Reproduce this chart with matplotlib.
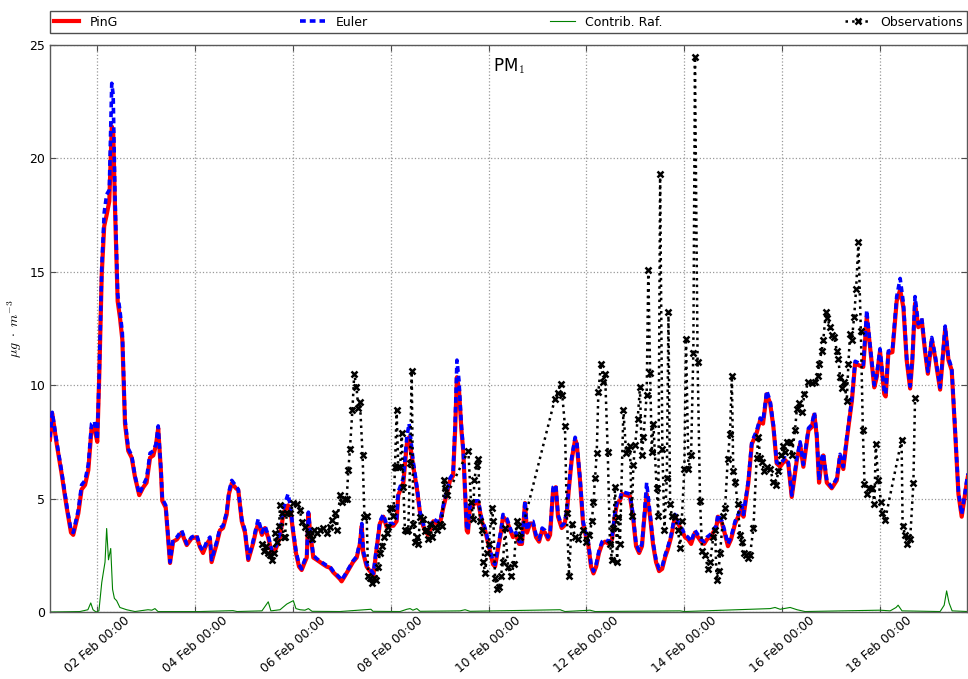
import matplotlib
matplotlib.use("Agg")
import matplotlib.pyplot as plt
import matplotlib.dates as mdates
from datetime import datetime, timedelta

plt.rcParams['font.family'] = ['DejaVu Sans']
plt.rcParams['mathtext.fontset'] = 'cm'

START = datetime(2015, 2, 1, 0, 0)

# ---- PinG / Euler (hours since 01 Feb 00:00) ----
model_hours = [
    0.8, 1.9, 4.1, 6.5, 9.0, 11.1, 12.2, 14.7, 16.3, 18.0, 19.6, 21.2, 22.6, 24.0,
    25.0, 26.2, 27.4, 28.6, 29.9, 31.1, 31.8, 32.7, 34.0, 35.1, 36.3, 37.6, 39.2, 40.9, 42.5, 44.6, 46.6, 48.2, 49.9, 51.5, 52.8, 53.9, 55.3, 55.9, 57.6, 58.8,
    59.7, 61.2, 63.1, 65.4, 67.9, 70.3, 72.8, 74.4, 75.9, 77.7, 79.3, 80.1, 82.6, 84.2, 85.7, 87.5, 88.6, 90.0, 92.1, 93.2, 94.9, 96.5, 98.1,
    100.4, 101.9, 103.0, 104.8, 106.3, 107.8, 109.7, 111.7, 113.7, 115.1, 116.5, 117.6, 118.9, 120.0, 121.5, 123.0, 124.3, 125.4, 126.8, 127.6, 128.4,
    130.0, 131.7, 133.3, 134.9, 136.6, 138.2, 139.8, 141.5, 143.1, 143.9, 145.6, 147.2,
    149.5, 151.3, 152.9, 153.8, 154.5, 156.2, 157.8, 159.5, 161.1, 162.7, 164.4, 166.0, 167.7, 169.3, 170.9, 171.7,
    174.2, 175.9, 177.0, 179.1, 180.9, 182.4, 183.9, 184.8, 186.3, 187.3, 188.9, 190.7, 192.2, 193.8, 195.5,
    197.1, 198.6, 199.6, 200.5, 201.5, 202.7, 203.6, 205.3,
    205.9, 206.9, 208.4, 209.4, 211.0, 212.7, 214.3, 215.9, 217.2, 218.2, 219.2, 220.7, 222.1, 223.1, 224.1, 225.1, 226.6,
    228.0, 229.5, 231.0, 232.4, 233.9, 234.9, 236.4, 237.8, 239.3, 240.8, 242.3, 243.7, 245.2, 246.2, 247.7, 249.0, 250.1, 251.9, 253.1, 254.4,
    255.5, 256.8, 258.5, 259.3, 260.9, 262.4, 263.9, 264.8, 266.3, 267.5, 268.8, 270.2, 271.7, 273.2, 275.1, 276.6, 278.1, 279.1, 280.5, 281.5,
    283.5, 285.4, 286.9, 288.4, 289.9, 291.3, 292.3, 293.6, 295.3, 296.7, 298.2, 299.7, 301.2, 302.6, 304.1, 305.6, 307.5, 309.0,
    310.8, 312.4, 313.9, 315.4, 317.3, 318.8, 320.3, 321.8, 323.2, 324.7, 326.2, 327.7, 328.6, 330.6, 332.1, 333.5, 335.0, 337.0, 338.5, 340.3, 341.1, 342.4, 343.5,
    345.2, 347.6, 349.3, 350.7, 352.5, 354.2, 355.8, 357.4, 359.1, 361.5, 363.1, 364.8, 367.3, 368.9, 370.5, 373.0, 374.6, 375.9, 377.1,
    378.2, 379.5, 380.3, 382.0, 384.4, 386.9, 388.5, 390.1, 391.8, 394.3, 395.9, 398.3, 399.9,
    401.6, 403.2, 405.3, 406.5, 408.1, 410.2, 410.9, 412.2, 414.2, 416.3, 418.0, 419.6, 421.2, 422.9, 424.0, 425.3, 426.9, 428.6, 430.2,
    431.6, 433.5, 435.1, 437.6, 440.1, 441.7, 443.3, 445.0, 446.6, 448.2, 450.7, 451.3,
]

ping_values = [
    7.6, 8.75, 7.4, 6.1, 4.6, 3.5, 3.4, 4.35, 5.4, 5.6, 6.25, 8.1, 8.1, 7.5,
    10.5, 14.9, 17.0, 17.5, 18.1, 21.4, 21.2, 17.8, 13.7, 13.0, 12.0, 8.3, 7.1, 6.8, 5.95, 5.15, 5.5, 5.7, 6.8, 6.9, 7.35, 8.1, 6.1, 4.9, 4.6, 3.2,
    2.16, 3.1, 3.2, 3.5, 2.95, 3.25, 3.3, 2.86, 2.6, 3.0, 3.2, 2.2, 3.0, 3.6, 3.7, 4.3, 5.2, 5.67, 5.45, 5.37, 4.0, 3.5, 2.29,
    3.0, 3.6, 3.9, 3.4, 3.7, 3.3, 2.6, 2.8, 3.3, 4.2, 4.6, 4.7, 4.4, 3.6, 2.6, 2.0, 1.85, 2.1, 2.4, 4.35, 3.6,
    2.4, 2.3, 2.2, 2.1, 2.0, 1.95, 1.75, 1.6, 1.45, 1.35, 1.6, 1.85,
    2.2, 2.4, 3.0, 3.8, 2.6, 2.0, 1.8, 1.6, 2.8, 3.9, 4.2, 3.75, 3.8, 3.8, 4.0, 5.15,
    5.7, 7.4, 7.7, 6.4, 5.4, 4.35, 3.8, 3.6, 3.4, 3.6, 4.0, 3.9, 3.9, 4.6, 5.2,
    5.8, 6.0, 8.0, 10.35, 9.8, 8.0, 7.1, 3.6,
    3.5, 4.6, 4.7, 4.8, 4.8, 4.0, 3.6, 3.0, 2.5, 2.1, 2.0, 2.8, 3.5, 4.2, 4.1, 4.0, 3.6,
    3.3, 3.4, 3.0, 3.0, 4.8, 3.5, 3.9, 3.9, 3.3, 3.1, 3.6, 3.5, 3.2, 3.4, 5.4, 5.5, 4.2, 3.7, 3.8, 4.35,
    5.5, 6.7, 7.6, 7.4, 5.8, 3.9, 3.3, 3.1, 2.0, 1.7, 2.0, 2.6, 3.0, 3.1, 3.0, 3.2, 4.3, 4.8, 4.9, 5.2,
    5.15, 5.1, 4.2, 2.9, 2.6, 2.9, 4.0, 5.2, 4.2, 3.0, 2.2, 1.8, 1.9, 2.4, 2.8, 3.3, 4.2, 3.9,
    3.6, 3.3, 3.2, 3.0, 3.5, 3.3, 3.1, 3.0, 3.2, 3.3, 3.5, 3.7, 4.2, 3.9, 3.4, 2.9, 3.2, 3.9, 4.2, 4.6, 4.2, 5.0, 5.7,
    7.4, 7.9, 8.45, 8.3, 9.6, 9.2, 8.15, 6.55, 6.4, 6.7, 6.55, 5.07, 6.7, 7.4, 6.4, 8.0, 8.15, 8.7, 7.7,
    5.7, 6.7, 6.9, 5.7, 5.45, 5.8, 6.85, 6.3, 7.6, 9.3, 10.95, 10.85, 10.8,
    13.0, 11.7, 9.9, 10.35, 11.5, 9.6, 9.5, 11.4, 11.45, 13.7, 14.2, 13.4, 11.1, 9.85, 11.1, 13.6, 12.55, 12.85, 11.5,
    10.5, 12.0, 11.25, 9.8, 12.5, 11.1, 10.65, 7.9, 5.2, 4.2, 5.7, 6.0,
]

euler_values = [
    7.7, 8.8, 7.5, 6.2, 4.7, 3.6, 3.5, 4.5, 5.6, 5.8, 6.5, 8.3, 8.4, 7.6,
    10.7, 15.2, 17.6, 18.4, 18.6, 23.3, 22.8, 18.3, 14.0, 13.3, 12.3, 8.5, 7.2, 6.9, 6.0, 5.2, 5.6, 5.9, 7.0, 7.1, 7.4, 8.2, 6.2, 5.0, 4.7, 3.3,
    2.2, 3.2, 3.3, 3.6, 3.0, 3.3, 3.4, 2.9, 2.7, 3.1, 3.3, 2.3, 3.1, 3.7, 3.8, 4.4, 5.3, 5.8, 5.55, 5.4, 4.1, 3.6, 2.35,
    3.1, 3.7, 4.1, 3.5, 3.8, 3.4, 2.7, 2.9, 3.5, 4.5, 4.9, 5.2, 4.6, 3.7, 2.7, 2.1, 1.9, 2.2, 2.5, 4.4, 3.7,
    2.5, 2.35, 2.25, 2.15, 2.05, 2.0, 1.8, 1.65, 1.5, 1.4, 1.65, 1.9,
    2.25, 2.45, 3.1, 3.9, 2.7, 2.1, 1.9, 1.7, 2.9, 4.0, 4.3, 3.85, 3.9, 3.9, 4.1, 5.3,
    5.9, 7.7, 8.3, 6.6, 5.5, 4.4, 3.9, 3.7, 3.5, 3.7, 4.1, 4.0, 4.0, 4.7, 5.3,
    5.9, 6.1, 8.3, 11.1, 10.2, 8.2, 7.2, 3.7,
    3.6, 4.7, 4.8, 4.9, 4.9, 4.1, 3.7, 3.1, 2.6, 2.2, 2.1, 2.9, 3.6, 4.3, 4.2, 4.1, 3.7,
    3.4, 3.5, 3.1, 3.1, 4.9, 3.6, 4.0, 4.0, 3.4, 3.2, 3.7, 3.6, 3.3, 3.5, 5.5, 5.6, 4.3, 3.8, 3.9, 4.45,
    5.6, 6.8, 7.7, 7.5, 5.9, 4.0, 3.4, 3.2, 2.1, 1.8, 2.1, 2.7, 3.1, 3.2, 3.1, 3.3, 4.4, 4.9, 5.0, 5.3,
    5.25, 5.2, 4.3, 3.0, 2.7, 3.0, 4.1, 5.7, 4.3, 3.1, 2.3, 1.9, 2.0, 2.5, 2.9, 3.4, 4.3, 4.0,
    3.7, 3.4, 3.3, 3.1, 3.6, 3.4, 3.2, 3.1, 3.3, 3.4, 3.6, 3.8, 4.3, 4.0, 3.5, 3.0, 3.3, 4.0, 4.3, 4.7, 4.3, 5.1, 5.8,
    7.5, 8.0, 8.55, 8.4, 9.75, 9.3, 8.25, 6.6, 6.5, 6.8, 6.6, 5.15, 6.8, 7.5, 6.5, 8.1, 8.25, 8.8, 7.8,
    5.8, 6.8, 7.0, 5.8, 5.5, 5.9, 6.95, 6.4, 7.7, 9.4, 11.05, 10.95, 10.9,
    13.3, 11.8, 10.0, 10.45, 11.6, 9.7, 9.6, 11.5, 11.55, 13.9, 14.7, 13.6, 11.2, 9.95, 11.2, 13.9, 12.7, 12.95, 11.6,
    10.6, 12.1, 11.35, 9.9, 12.6, 11.2, 10.75, 8.0, 5.3, 4.3, 5.8, 6.1,
]

# ---- Contrib. Raf. ----
raf_hours = [0.8, 15.5, 19.4, 20.8, 21.9, 23.4, 24.8, 26.2, 26.9, 27.8, 28.6, 29.5, 30.6, 31.5, 32.4, 33.5, 35.1, 38.4, 42.5,
             48.9, 50.8, 52.3, 53.8, 74.4, 90.6, 92.6, 104.8, 107.9, 109.2, 113.7, 117.0, 119.1, 120.2, 121.5, 123.5, 125.9,
             127.6, 129.4, 143.1, 158.3, 159.3, 172.6, 175.9, 177.5, 178.9, 180.8, 182.4, 202.0, 204.5, 206.9, 251.1, 253.5,
             265.8, 268.3, 310.0, 312.0, 354.2, 356.6, 359.1, 364.0, 367.4, 371.3, 408.1, 413.1, 416.0, 417.0, 418.9, 437.6,
             439.6, 440.8, 442.0, 443.5, 451.3]
raf_values = [0.0, 0.02, 0.1, 0.4, 0.1, 0.0, 0.05, 1.3, 1.7, 2.2, 3.68, 2.3, 2.8, 1.0, 0.6, 0.5, 0.2, 0.1, 0.02,
              0.1, 0.08, 0.15, 0.02, 0.02, 0.06, 0.02, 0.05, 0.45, 0.05, 0.1, 0.35, 0.45, 0.5, 0.15, 0.1, 0.08,
              0.15, 0.03, 0.02, 0.12, 0.03, 0.02, 0.12, 0.15, 0.08, 0.15, 0.03, 0.05, 0.1, 0.03, 0.1, 0.02,
              0.08, 0.02, 0.05, 0.02, 0.15, 0.2, 0.12, 0.2, 0.1, 0.02, 0.08, 0.05, 0.2, 0.3, 0.05, 0.02,
              0.3, 0.93, 0.4, 0.05, 0.02]

# ---- Observations ----
obs_hours = [
    104.8, 105.8, 106.8, 107.8, 108.8, 109.7, 110.7, 111.2, 112.2, 113.2,
    113.7, 114.8, 115.4, 116.1, 117.0, 118.6, 120.2, 121.9, 123.5, 124.3,
    125.9, 127.6, 128.4, 129.4, 130.4, 131.7, 133.3, 134.9, 136.6, 138.2,
    139.0, 140.7, 141.5, 143.1, 143.9, 145.6, 146.4, 147.2, 148.0, 149.2,
    150.1, 151.2, 152.1, 152.9, 154.2, 155.1, 156.2, 156.9, 157.8, 158.8,
    159.8, 160.8, 161.8, 162.7, 163.7, 164.7, 166.0, 166.8, 167.7, 168.5,
    169.3, 170.1, 170.9, 171.7, 172.6, 173.4, 174.2, 175.0, 175.9, 176.6,
    177.5, 178.3, 179.1, 179.9, 180.8, 181.5, 182.4, 183.9, 184.8, 185.7,
    186.5, 187.3, 188.3, 189.7, 190.7, 192.2, 193.2, 194.2, 194.7, 195.5,
    206.1, 207.4, 208.5, 209.0, 210.2, 211.0, 211.8, 212.7, 213.5, 214.3,
    215.3, 216.2, 217.6, 218.4, 219.2, 220.2, 221.2, 222.1, 223.1, 224.1,
    225.6, 227.0, 228.5, 229.8, 230.6, 231.5, 248.6, 249.9, 251.4, 252.2,
    253.5, 254.4, 255.5, 256.8, 258.5, 259.9, 262.2, 263.9, 265.5, 266.7,
    267.5, 268.3, 269.1, 269.9, 271.2, 272.4, 273.2, 274.5, 275.6, 276.6,
    277.2, 278.1, 279.1, 279.7, 280.5, 282.2, 283.5, 284.3, 285.4, 286.3,
    287.1, 287.9, 289.2, 290.3, 291.2, 292.0, 293.6, 294.4, 295.3, 296.1,
    296.9, 298.5, 299.3, 300.2, 301.3, 302.3, 303.5, 304.3, 305.1, 305.9,
    307.5, 309.0, 310.0, 310.8, 312.1, 312.9, 314.1, 315.4, 316.5, 317.3,
    318.6, 319.8, 320.8, 322.3, 323.7, 324.7, 326.3, 327.2, 327.9, 328.9,
    329.6, 331.2, 332.1, 333.4, 334.5, 335.4, 336.1, 337.0, 338.3, 339.4,
    340.4, 341.4, 342.4, 343.4, 344.3, 346.0, 347.6, 348.4, 349.3, 350.1,
    351.4, 352.5, 354.2, 355.8, 357.0, 358.2, 359.6, 360.7, 361.5, 362.4,
    364.0, 364.8, 366.4, 367.3, 368.4, 369.7, 371.0, 373.0, 374.6, 376.2,
    377.6, 378.2, 379.5, 380.3, 381.5, 382.3, 383.6, 384.4, 385.7, 386.9,
    387.7, 388.5, 389.3, 390.6, 391.8, 392.6, 393.4, 394.3, 395.4, 396.4,
    397.5, 398.7, 399.7, 400.5, 401.6, 402.8, 404.4, 405.4, 406.0, 407.3,
    408.6, 409.3, 410.6, 418.7, 419.2, 420.4, 421.2, 422.0, 422.9, 424.5,
    425.3,
]
obs_values = [
    3.0, 2.7, 2.9, 2.6, 2.5, 2.3, 2.6, 3.5, 3.1, 3.8,
    4.7, 4.35, 3.3, 3.3, 4.35, 4.35, 4.8, 4.75, 4.5, 3.97,
    3.75, 3.5, 3.4, 3.2, 3.6, 3.5, 3.6, 3.7, 3.5, 3.75,
    4.05, 4.35, 3.6, 5.15, 4.85, 5.0, 5.0, 6.25, 7.2, 8.9,
    10.5, 9.9, 9.0, 9.25, 6.9, 4.2, 4.25, 1.6, 1.5, 1.3,
    1.5, 1.4, 2.0, 2.6, 2.9, 3.3, 3.5, 3.75, 4.6, 4.6,
    4.25, 6.4, 8.9, 6.4, 6.4, 7.9, 5.5, 3.6, 3.55, 3.6,
    6.55, 10.6, 3.9, 3.1, 3.3, 3.0, 4.2, 4.1, 3.55, 3.6,
    3.2, 3.9, 3.3, 3.75, 3.6, 3.9, 3.8, 5.8, 5.45, 5.15,
    7.1, 4.85, 4.1, 5.8, 6.5, 6.75, 4.0, 3.6, 2.2, 1.7,
    2.6, 3.0, 4.6, 4.0, 1.5, 1.0, 1.1, 1.6, 2.2, 3.7,
    2.0, 1.6, 2.1, 4.0, 3.8, 3.3, 9.4, 9.65, 10.06, 9.55,
    8.2, 4.35, 1.6, 3.9, 3.3, 3.2, 3.6, 3.1, 3.4, 4.0,
    4.85, 5.9, 7.0, 9.7, 10.95, 10.15, 10.5, 7.05, 3.0, 2.3,
    3.7, 5.5, 2.2, 4.2, 3.0, 8.9, 7.0, 7.2, 7.3, 4.25,
    6.5, 7.35, 8.5, 9.9, 6.9, 7.7, 9.55, 15.05, 10.55, 7.05,
    8.3, 5.45, 4.25, 19.3, 7.2, 3.6, 5.9, 13.2, 4.75, 4.25,
    4.2, 3.6, 2.8, 4.0, 6.3, 12.05, 6.3, 6.9, 11.4, 24.45,
    11.0, 4.9, 2.7, 2.5, 1.9, 2.2, 3.3, 3.6, 1.4, 1.8,
    2.6, 4.25, 4.6, 6.75, 7.85, 10.4, 6.2, 5.75, 4.75, 3.4,
    3.1, 2.6, 2.5, 2.4, 2.5, 3.7, 6.8, 7.7, 6.8, 6.6,
    6.2, 6.4, 6.3, 5.75, 5.6, 6.2, 6.9, 7.3, 7.05, 7.5,
    7.5, 6.9, 8.0, 8.95, 9.2, 8.8, 9.6, 10.15, 10.1, 10.15,
    10.4, 10.95, 11.5, 12.0, 13.2, 12.95, 12.55, 12.2, 12.1, 11.5,
    11.15, 10.35, 9.85, 10.15, 9.3, 10.95, 12.25, 12.0, 13.0, 14.25,
    16.3, 12.4, 8.0, 5.65, 5.2, 5.45, 5.45, 4.75, 7.4, 5.8,
    4.85, 4.35, 4.05, 7.6, 3.8, 3.4, 3.0, 3.3, 3.2, 5.7,
    9.45,
]

xlim_hours = (0.8, 450.8)
tick_days = [2, 4, 6, 8, 10, 12, 14, 16, 18]
y_ticks = [0, 5, 10, 15, 20, 25]


def to_time(hours):
    return [START + timedelta(hours=h) for h in hours]


fig = plt.figure(figsize=(9.68, 6.79), dpi=100)
ax = fig.add_axes([50 / 968, 67 / 679, 917 / 968, 567.3 / 679])

t_model = to_time(model_hours)
ax.plot(t_model, ping_values, color='red', lw=3.0, label='PinG', zorder=3)
ax.plot(t_model, euler_values, color='blue', lw=2.6, ls=(0, (1.6, 1.1)), label='Euler', zorder=4)
ax.plot(to_time(raf_hours), raf_values, color='green', lw=0.8, label='Contrib. Raf.', zorder=2)
ax.plot(to_time(obs_hours), obs_values, color='black', ls=':', lw=1.8, marker='x',
        ms=5, mew=1.8, label='Observations', zorder=5)

ax.set_xlim(START + timedelta(hours=xlim_hours[0]), START + timedelta(hours=xlim_hours[1]))
ax.set_ylim(0, 25)
ax.set_yticks(y_ticks)
ax.set_xticks([START + timedelta(days=d - 1) for d in tick_days])
ax.xaxis.set_major_formatter(mdates.DateFormatter('%d %b %H:%M'))
for lab in ax.get_xticklabels():
    lab.set_rotation(40)
    lab.set_ha('center')

ax.tick_params(axis='both', direction='in', length=4, color='0.3', labelsize=9, top=True, right=True)
ax.tick_params(axis='x', pad=1.5, labelsize=8.8)
for sp in ax.spines.values():
    sp.set_color('0.35')
    sp.set_linewidth(1.0)
ax.grid(True, linestyle=':', color='0.6', lw=0.9)

ax.set_ylabel(r'$\mu g\ \cdot\ m^{-3}$', fontsize=10)
ax.text(0.5, 0.98, r'PM$_1$', transform=ax.transAxes, ha='center', va='top', fontsize=12)

leg = ax.legend(loc='lower left', bbox_to_anchor=(0, 1.0206, 1.0, 0.037), mode='expand',
                ncol=4, borderaxespad=0, fontsize=9, fancybox=False, framealpha=1,
                edgecolor='0.3', handlelength=2.0, borderpad=0.35)
leg.get_frame().set_linewidth(1.0)

fig.savefig('out.png', dpi=100)
